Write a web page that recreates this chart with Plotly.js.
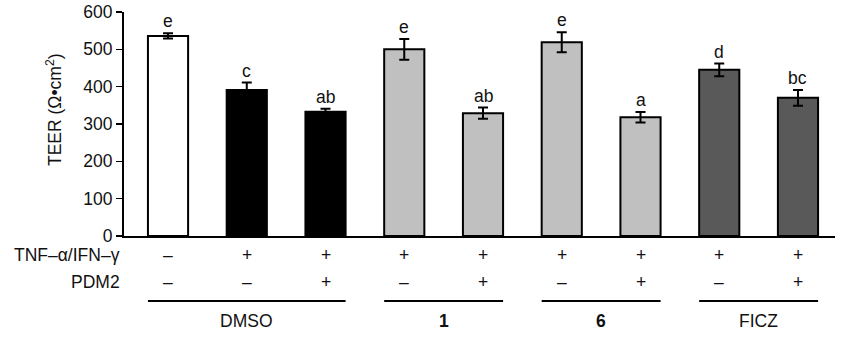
<!DOCTYPE html>
<html><head><meta charset="utf-8">
<script src="https://cdn.plot.ly/plotly-3.0.1.min.js"></script>
<style>html,body{margin:0;padding:0;background:#fff}#chart{width:842px;height:343px}</style>
</head><body><div id="chart"></div>
<script>
// ---- data ----
const teerValues = [536, 391, 333, 500, 329, 519, 318, 445, 370];
const teerErrors = [7, 20, 8, 28, 15, 27, 14, 17, 21];
const sigLetters = ["e", "c", "ab", "e", "ab", "e", "a", "d", "bc"];
const tnfRow = ["–", "+", "+", "+", "+", "+", "+", "+", "+"];
const pdm2Row = ["–", "–", "+", "–", "+", "–", "+", "–", "+"];
const barColors = ["#ffffff", "#000000", "#000000", "#c0c0c0", "#c0c0c0", "#c0c0c0", "#c0c0c0", "#595959", "#595959"];
const groupNames = ["DMSO", "<b>1</b>", "<b>6</b>", "FICZ"];
const groupStart = [0, 3, 5, 7];
const groupEnd = [2, 4, 6, 8];
const rowLabels = ["TNF–α/IFN–γ", "PDM2"];
const yTitle = "TEER (Ω•cm<sup>2</sup>)";

const FONT = "Arial, 'Liberation Sans', sans-serif";
const FS = 17.5;
const TXT = "#111";
const W = 842, H = 343, ML = 124, MR = 7, MT = 12, MB = 107;
const PW = W - ML - MR, PH = H - MT - MB;
const px2x = p => (p - ML) / PW;
const py2y = p => (H - MB - p) / PH;

const xs = teerValues.map((_, i) => i);

const trace = {
  type: "bar", x: xs, y: teerValues, width: 0.51,
  marker: {color: barColors, line: {color: "#000", width: 2}},
  error_y: {type: "data", array: teerErrors, visible: true, color: "#000", thickness: 2, width: 5},
  hoverinfo: "skip"
};

const f = {family: FONT, size: FS, color: TXT};
const ann = [];
xs.forEach(i => {
  ann.push({x: i, y: teerValues[i] + teerErrors[i], xref: "x", yref: "y", text: sigLetters[i],
    showarrow: false, yanchor: "bottom", yshift: 0, font: f});
  ann.push({x: i, y: py2y(255), xref: "x", yref: "paper", text: tnfRow[i], showarrow: false,
    yanchor: "middle", font: f});
  ann.push({x: i, y: py2y(281.5), xref: "x", yref: "paper", text: pdm2Row[i], showarrow: false,
    yanchor: "middle", font: f});
});
rowLabels.forEach((t, k) => {
  ann.push({x: px2x(122), y: py2y(k === 0 ? 255 : 281.5), xref: "paper", yref: "paper", text: t,
    showarrow: false, xanchor: "right", yanchor: "middle", font: f});
});
const shapes = [];
groupNames.forEach((g, k) => {
  const a = groupStart[k] - 0.255, b = groupEnd[k] + 0.255;
  shapes.push({type: "line", xref: "x", yref: "paper", x0: a, x1: b, y0: py2y(301), y1: py2y(301),
    line: {color: "#000", width: 2}});
  ann.push({x: (groupStart[k] + groupEnd[k]) / 2, y: py2y(321), xref: "x", yref: "paper", text: g,
    showarrow: false, yanchor: "middle", font: f});
});
ann.push({x: px2x(41), y: py2y(110), xref: "paper", yref: "paper", text: yTitle, showarrow: false,
  textangle: -90, font: f});

const layout = {
  width: W, height: H,
  margin: {l: ML, r: MR, t: MT, b: MB},
  paper_bgcolor: "#fff", plot_bgcolor: "#fff",
  showlegend: false,
  xaxis: {range: [-0.559, 8.47], showticklabels: false, ticks: "", showgrid: false, zeroline: false,
    showline: true, linecolor: "#000", linewidth: 2, fixedrange: true},
  yaxis: {range: [0, 600], dtick: 100, ticks: "outside", ticklen: 6, tickwidth: 1.5, tickcolor: "#000",
    showgrid: false, zeroline: false, showline: true, linecolor: "#000", linewidth: 2,
    tickfont: f, fixedrange: true},
  annotations: ann, shapes: shapes
};
Plotly.newPlot("chart", [trace], layout, {displayModeBar: false, staticPlot: true});
</script>
</body></html>
